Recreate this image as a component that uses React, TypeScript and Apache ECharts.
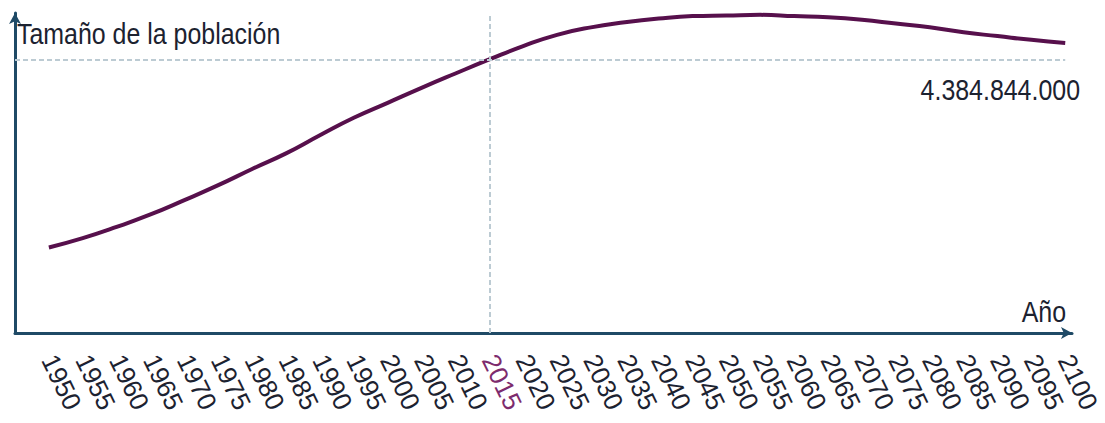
import React, { useEffect, useRef } from "react";
import * as echarts from "echarts";

const YEARS = [
  1950, 1955, 1960, 1965, 1970, 1975, 1980, 1985, 1990, 1995, 2000, 2005, 2010,
  2015, 2020, 2025, 2030, 2035, 2040, 2045, 2050, 2055, 2060, 2065, 2070, 2075,
  2080, 2085, 2090, 2095, 2100,
];
const POPULATION_BN = [
  1.37, 1.52, 1.7, 1.9, 2.13, 2.37, 2.63, 2.88, 3.17, 3.45, 3.69, 3.93, 4.16,
  4.385, 4.6, 4.78, 4.9, 4.98, 5.04, 5.08, 5.09, 5.1, 5.08, 5.06, 5.02, 4.96,
  4.9, 4.82, 4.76, 4.7, 4.65,
];
const HIGHLIGHT_YEAR = 2015;
const HIGHLIGHT_VALUE = 4384844000;
const Y_TITLE = "Tamaño de la población";
const X_TITLE = "Año";

const fmt = (n: number) => String(n).replace(/\B(?=(\d{3})+(?!\d))/g, ".");

export default function App() {
  const ref = useRef<HTMLDivElement>(null);
  useEffect(() => {
    document.body.style.margin = "0";
    const chart = echarts.init(ref.current!, null, { renderer: "svg" });
    const hv = HIGHLIGHT_VALUE / 1e9;
    const textFont = "29px 'Liberation Sans', Arial, sans-serif";
    chart.setOption({
      animation: false,
      grid: {
        left: 15,
        right: 33,
        top: 13,
        bottom: 90,
        containLabel: false,
        outerBoundsMode: "none",
      },
      xAxis: {
        type: "value",
        min: 1945,
        max: 2101,
        interval: 5,
        splitLine: { show: false },
        axisTick: { show: false },
        axisLine: {
          show: true,
          lineStyle: { color: "#1f4a66", width: 3 },
          symbol: ["none", "arrow"],
          symbolSize: [9, 11],
        },
        axisLabel: {
          rotate: -64,
          margin: 23,
          fontFamily: "'Liberation Sans', Arial, sans-serif",
          fontSize: 26,
          lineHeight: 22,
          showMinLabel: true,
          showMaxLabel: true,
          color: (v: any) => (Number(v) === HIGHLIGHT_YEAR ? "#7d2b6d" : "#1c2230"),
          formatter: (v: number) => (YEARS.includes(v) ? String(v) : ""),
        },
      },
      yAxis: {
        type: "value",
        min: 0,
        max: 5.13,
        splitLine: { show: false },
        axisTick: { show: false },
        axisLabel: { show: false },
        axisLine: {
          show: true,
          lineStyle: { color: "#1f4a66", width: 3 },
          symbol: ["none", "arrow"],
          symbolSize: [9, 11],
        },
      },
      series: [
        {
          type: "line",
          smooth: true,
          showSymbol: false,
          data: YEARS.map((y, i) => [y, POPULATION_BN[i]]),
          lineStyle: { color: "#57104c", width: 4 },
          itemStyle: { color: "#57104c" },
          markLine: {
            silent: true,
            symbol: "none",
            label: { show: false },
            lineStyle: { color: "#bccbd3", type: [5, 3], width: 2 },
            data: [
              [{ coord: [1945, hv] }, { coord: [2100, hv] }],
              [{ coord: [HIGHLIGHT_YEAR, 0] }, { coord: [HIGHLIGHT_YEAR, 5.13] }],
            ],
          },
        },
      ],
      graphic: [
        {
          type: "text",
          x: 17,
          y: 34,
          scaleX: 0.86,
          style: {
            text: Y_TITLE,
            font: textFont,
            fill: "#1c2230",
            textAlign: "left",
            textVerticalAlign: "middle",
          },
        },
        {
          type: "text",
          x: 1066,
          y: 312,
          scaleX: 0.86,
          style: {
            text: X_TITLE,
            font: textFont,
            fill: "#1c2230",
            textAlign: "right",
            textVerticalAlign: "middle",
          },
        },
        {
          type: "text",
          x: 1080,
          y: 90,
          scaleX: 0.86,
          style: {
            text: fmt(HIGHLIGHT_VALUE),
            font: textFont,
            fill: "#1c2230",
            textAlign: "right",
            textVerticalAlign: "middle",
          },
        },
      ],
    });
    return () => chart.dispose();
  }, []);
  return <div ref={ref} style={{ width: 1105, height: 423 }} />;
}
